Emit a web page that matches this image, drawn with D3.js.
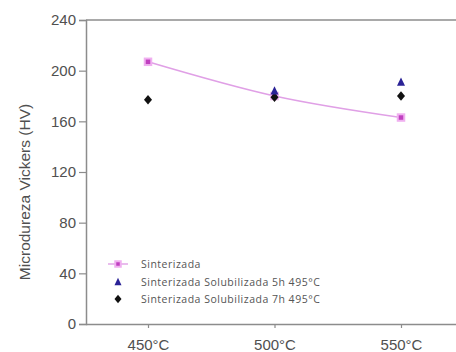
<!DOCTYPE html>
<html>
<head>
<meta charset="utf-8">
<script src="https://cdn.jsdelivr.net/npm/d3@7"></script>
<style>
  html, body { margin: 0; padding: 0; background: #fff; }
  svg { display: block; }
  text { font-family: "Liberation Sans", Arial, sans-serif; }
</style>
</head>
<body>
<svg id="chart" width="456" height="352"></svg>
<script>
// Sintering temperature categories
const categories = ["450°C", "500°C", "550°C"];
// Microhardness (HV) for each treatment
const sinterizada = [207, 180, 163];
const solub5h = [null, 184, 191];
const solub7h = [177, 179, 180];
const yTicks = [0, 40, 80, 120, 160, 200, 240];
const seriesNames = [
  "Sinterizada",
  "Sinterizada Solubilizada 5h 495°C",
  "Sinterizada Solubilizada 7h 495°C"
];

const svg = d3.select("#chart");
const plotLeft = 86, plotRight = 456, plotTop = 20, plotBottom = 324;

const x = d3.scalePoint().domain(categories).range([148, 401]);
const y = d3.scaleLinear().domain([0, 240]).range([plotBottom, plotTop]);

const axisColor = "#8c8c8c";
const textColor = "#505050";

// Top frame line
svg.append("line")
  .attr("x1", plotLeft).attr("x2", plotRight).attr("y1", plotTop).attr("y2", plotTop)
  .attr("stroke", axisColor).attr("stroke-width", 1.5);

// Y axis
const gy = svg.append("g").attr("transform", `translate(${plotLeft},0)`)
  .call(d3.axisLeft(y).tickValues(yTicks).tickSize(7).tickPadding(3));
gy.select(".domain").attr("stroke", axisColor).attr("stroke-width", 1.5);
gy.selectAll(".tick line").attr("stroke", axisColor).attr("stroke-width", 1.2);
gy.selectAll(".tick text").attr("fill", textColor).style("font-size", "15px");

// X axis
const gx = svg.append("g").attr("transform", `translate(0,${plotBottom})`)
  .call(d3.axisBottom(x).tickSize(4).tickPadding(11));
gx.select(".domain").attr("d", `M${plotLeft},0.5H${plotRight}`)
  .attr("stroke", axisColor).attr("stroke-width", 1.5);
gx.selectAll(".tick line").attr("stroke", axisColor).attr("stroke-width", 1.2);
gx.selectAll(".tick text").attr("fill", textColor).style("font-size", "15px");

// Y axis title
svg.append("text")
  .attr("transform", `translate(30,192) rotate(-90)`)
  .attr("text-anchor", "middle")
  .attr("fill", textColor)
  .style("font-size", "15.5px")
  .text("Microdureza Vickers (HV)");

// Sinterizada trend line
const lineData = categories.map((c, i) => [x(c), y(sinterizada[i])]);
svg.append("path")
  .attr("d", d3.line().curve(d3.curveMonotoneX)(lineData))
  .attr("fill", "none")
  .attr("stroke", "#e0a0e6")
  .attr("stroke-width", 1.6);

const magenta = "#c040c0", navy = "#2a2296", black = "#111";

function marker(g, type, cx, cy, color, s) {
  if (type === "square") {
    g.append("rect").attr("x", cx - s / 2).attr("y", cy - s / 2)
      .attr("width", s).attr("height", s).attr("fill", color)
      .attr("stroke", "#f0b0f0").attr("stroke-width", 2);
  } else if (type === "triangle") {
    const h = s * 0.9;
    g.append("path")
      .attr("d", `M${cx},${cy - h / 2 - 1}L${cx + s / 2},${cy + h / 2}L${cx - s / 2},${cy + h / 2}Z`)
      .attr("fill", color);
  } else {
    const w = s / 2, h = s / 2 + 0.8;
    g.append("path")
      .attr("d", `M${cx},${cy - h}L${cx + w},${cy}L${cx},${cy + h}L${cx - w},${cy}Z`)
      .attr("fill", color);
  }
}

const marks = svg.append("g");
sinterizada.forEach((v, i) => marker(marks, "square", x(categories[i]), y(v), magenta, 6.5));
solub7h.forEach((v, i) => { if (v != null) marker(marks, "diamond", x(categories[i]), y(v), black, 8); });
solub5h.forEach((v, i) => { if (v != null) marker(marks, "triangle", x(categories[i]), y(v), navy, 8); });

// Legend
const legend = svg.append("g");
const legY = [264, 282, 299];
const types = ["square", "triangle", "diamond"];
const colors = [magenta, navy, black];
legend.append("line").attr("x1", 108).attr("x2", 128)
  .attr("y1", legY[0]).attr("y2", legY[0])
  .attr("stroke", "#e0a0e6").attr("stroke-width", 1.4);
seriesNames.forEach((name, i) => {
  marker(legend, types[i], 118, legY[i], colors[i], i === 0 ? 5.5 : 7);
  legend.append("text").attr("x", 141).attr("y", legY[i]).attr("dy", "0.35em")
    .attr("fill", "#555")
    .style("font-family", "'Open Sans', sans-serif")
    .style("font-size", "10.5px")
    .style("letter-spacing", "0.5px")
    .text(name);
});
</script>
</body>
</html>
